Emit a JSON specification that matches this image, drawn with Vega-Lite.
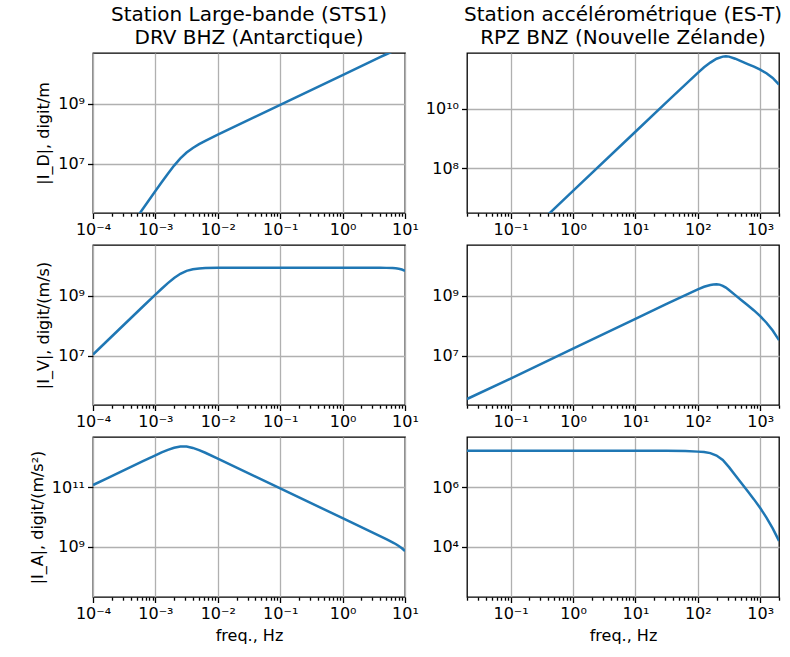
{
  "$schema": "https://vega.github.io/schema/vega-lite/v6.json",
  "padding": {"left": 28, "top": 4, "right": 5, "bottom": 5},
  "bounds": "flush",
  "columns": 2,
  "spacing": {"row": 32, "column": 62},
  "datasets": {
    "LD": [{"f":0.0003981,"v":7.621e4},{"f":0.000631,"v":3.027e5},{"f":0.001,"v":1.197e6},{"f":0.001259,"v":2.360e6},{"f":0.001585,"v":4.571e6},{"f":0.001995,"v":8.531e6},{"f":0.002512,"v":1.483e7},{"f":0.003162,"v":2.333e7},{"f":0.003981,"v":3.342e7},{"f":0.005012,"v":4.467e7},{"f":0.00631,"v":5.781e7},{"f":0.01,"v":9.311e7},{"f":0.1,"v":9.333e8},{"f":1,"v":9.333e9},{"f":2.512,"v":2.344e10},{"f":3.981,"v":3.711e10},{"f":5.012,"v":4.656e10},{"f":6.31,"v":5.781e10},{"f":10,"v":7.413e10}],
    "LV": [{"f":0.0001,"v":1.102e7},{"f":0.0001585,"v":2.767e7},{"f":0.0002512,"v":6.950e7},{"f":0.0003981,"v":1.746e8},{"f":0.000631,"v":4.375e8},{"f":0.001,"v":1.091e9},{"f":0.001259,"v":1.710e9},{"f":0.001585,"v":2.630e9},{"f":0.001995,"v":3.899e9},{"f":0.002512,"v":5.383e9},{"f":0.003162,"v":6.730e9},{"f":0.003981,"v":7.656e9},{"f":0.005012,"v":8.128e9},{"f":0.00631,"v":8.356e9},{"f":0.01,"v":8.492e9},{"f":0.1,"v":8.511e9},{"f":1,"v":8.511e9},{"f":2.512,"v":8.511e9},{"f":3.981,"v":8.502e9},{"f":5.012,"v":8.472e9},{"f":6.31,"v":8.356e9},{"f":7.079,"v":8.213e9},{"f":7.943,"v":7.943e9},{"f":8.913,"v":7.482e9},{"f":10,"v":6.761e9}],
    "LA": [{"f":0.0001,"v":1.180e11},{"f":0.0001585,"v":1.871e11},{"f":0.0002512,"v":2.965e11},{"f":0.0003981,"v":4.699e11},{"f":0.000631,"v":7.430e11},{"f":0.001,"v":1.169e12},{"f":0.001259,"v":1.455e12},{"f":0.001585,"v":1.778e12},{"f":0.001995,"v":2.094e12},{"f":0.002512,"v":2.296e12},{"f":0.003162,"v":2.280e12},{"f":0.003981,"v":2.061e12},{"f":0.005012,"v":1.738e12},{"f":0.00631,"v":1.419e12},{"f":0.01,"v":9.099e11},{"f":0.1,"v":9.120e10},{"f":1,"v":9.120e9},{"f":2.512,"v":3.631e9},{"f":3.981,"v":2.288e9},{"f":5.012,"v":1.811e9},{"f":6.31,"v":1.419e9},{"f":7.079,"v":1.243e9},{"f":7.943,"v":1.072e9},{"f":8.913,"v":8.995e8},{"f":10,"v":7.244e8}],
    "RD": [{"f":0.3162,"v":1.698e6},{"f":1,"v":1.698e7},{"f":10,"v":1.660e9},{"f":31.62,"v":1.660e10},{"f":100,"v":1.585e11},{"f":125.9,"v":2.455e11},{"f":158.5,"v":3.548e11},{"f":199.5,"v":4.786e11},{"f":251.2,"v":5.623e11},{"f":281.8,"v":5.754e11},{"f":316.2,"v":5.623e11},{"f":398.1,"v":4.786e11},{"f":501.2,"v":3.890e11},{"f":631,"v":3.162e11},{"f":794.3,"v":2.570e11},{"f":1000,"v":2.042e11},{"f":1259,"v":1.549e11},{"f":1585,"v":1.072e11},{"f":2000,"v":6.457e10}],
    "RV": [{"f":0.02,"v":3.631e5},{"f":0.1,"v":1.738e6},{"f":1,"v":1.738e7},{"f":10,"v":1.698e8},{"f":31.62,"v":5.370e8},{"f":100,"v":1.622e9},{"f":125.9,"v":1.995e9},{"f":158.5,"v":2.291e9},{"f":177.8,"v":2.371e9},{"f":199.5,"v":2.399e9},{"f":223.9,"v":2.344e9},{"f":251.2,"v":2.138e9},{"f":281.8,"v":1.862e9},{"f":316.2,"v":1.549e9},{"f":398.1,"v":1.047e9},{"f":501.2,"v":7.079e8},{"f":631,"v":4.786e8},{"f":794.3,"v":3.236e8},{"f":1000,"v":2.089e8},{"f":1259,"v":1.259e8},{"f":1585,"v":6.918e7},{"f":2000,"v":3.311e7}],
    "RA": [{"f":0.02,"v":1.660e7},{"f":0.1,"v":1.660e7},{"f":1,"v":1.660e7},{"f":10,"v":1.660e7},{"f":31.62,"v":1.660e7},{"f":63.1,"v":1.622e7},{"f":100,"v":1.549e7},{"f":125.9,"v":1.514e7},{"f":158.5,"v":1.380e7},{"f":199.5,"v":1.148e7},{"f":251.2,"v":8.128e6},{"f":316.2,"v":4.677e6},{"f":398.1,"v":2.512e6},{"f":501.2,"v":1.349e6},{"f":631,"v":7.244e5},{"f":794.3,"v":3.890e5},{"f":1000,"v":1.995e5},{"f":1259,"v":9.550e4},{"f":1585,"v":4.169e4},{"f":2000,"v":1.585e4}]
  },
  "concat": [
    {
      "width": 312, "height": 160,
      "title": {"text": ["Station Large-bande (STS1)", "DRV BHZ (Antarctique)"]},
      "data": {"name": "LD"},
      "mark": {"type": "line", "clip": true, "color": "#1f77b4", "strokeWidth": 2.5},
      "encoding": {
        "x": {"field": "f", "type": "quantitative", "scale": {"type": "log", "domain": [0.0001, 10], "nice": false},
          "axis": {"title": null, "values": [0.0001,0.0002,0.0003,0.0004,0.0005,0.0006,0.0007,0.0008,0.0009,0.001,0.002,0.003,0.004,0.005,0.006,0.007,0.008,0.009,0.01,0.02,0.03,0.04,0.05,0.06,0.07,0.08,0.09,0.1,0.2,0.3,0.4,0.5,0.6,0.7,0.8,0.9,1,2,3,4,5,6,7,8,9,10],
            "labelExpr": "abs(log(datum.value)/LN10-round(log(datum.value)/LN10))<0.001 ? '10'+(round(log(datum.value)/LN10)<0?'⁻':'')+(abs(round(log(datum.value)/LN10))>=10?'¹':'')+['⁰','¹','²','³','⁴','⁵','⁶','⁷','⁸','⁹'][abs(round(log(datum.value)/LN10))%10] : ''",
            "tickSize": {"condition": {"test": "abs(log(datum.value)/LN10-round(log(datum.value)/LN10))<0.001", "value": 5.5}, "value": 3.2},
            "gridOpacity": {"condition": {"test": "abs(log(datum.value)/LN10-round(log(datum.value)/LN10))<0.001", "value": 1}, "value": 0}}},
        "y": {"field": "v", "type": "quantitative", "scale": {"type": "log", "domain": [2.188e5, 5.129e10], "nice": false},
          "axis": {"values": [1e7, 1e9], "title": "|I_D|, digit/m",
            "labelExpr": "'10'+(round(log(datum.value)/LN10)<0?'⁻':'')+(abs(round(log(datum.value)/LN10))>=10?'¹':'')+['⁰','¹','²','³','⁴','⁵','⁶','⁷','⁸','⁹'][abs(round(log(datum.value)/LN10))%10]"}}
      }
    },
    {
      "width": 312, "height": 160,
      "title": {"text": ["Station accélérométrique (ES-T)", "RPZ BNZ (Nouvelle Zélande)"]},
      "data": {"name": "RD"},
      "mark": {"type": "line", "clip": true, "color": "#1f77b4", "strokeWidth": 2.5},
      "encoding": {
        "x": {"field": "f", "type": "quantitative", "scale": {"type": "log", "domain": [0.02, 2000], "nice": false},
          "axis": {"title": null, "values": [0.02,0.03,0.04,0.05,0.06,0.07,0.08,0.09,0.1,0.2,0.3,0.4,0.5,0.6,0.7,0.8,0.9,1,2,3,4,5,6,7,8,9,10,20,30,40,50,60,70,80,90,100,200,300,400,500,600,700,800,900,1000,2000],
            "labelExpr": "abs(log(datum.value)/LN10-round(log(datum.value)/LN10))<0.001 ? '10'+(round(log(datum.value)/LN10)<0?'⁻':'')+(abs(round(log(datum.value)/LN10))>=10?'¹':'')+['⁰','¹','²','³','⁴','⁵','⁶','⁷','⁸','⁹'][abs(round(log(datum.value)/LN10))%10] : ''",
            "tickSize": {"condition": {"test": "abs(log(datum.value)/LN10-round(log(datum.value)/LN10))<0.001", "value": 5.5}, "value": 3.2},
            "gridOpacity": {"condition": {"test": "abs(log(datum.value)/LN10-round(log(datum.value)/LN10))<0.001", "value": 1}, "value": 0}}},
        "y": {"field": "v", "type": "quantitative", "scale": {"type": "log", "domain": [3.055e6, 7.447e11], "nice": false},
          "axis": {"values": [1e8, 1e10], "title": null,
            "labelExpr": "'10'+(round(log(datum.value)/LN10)<0?'⁻':'')+(abs(round(log(datum.value)/LN10))>=10?'¹':'')+['⁰','¹','²','³','⁴','⁵','⁶','⁷','⁸','⁹'][abs(round(log(datum.value)/LN10))%10]"}}
      }
    },
    {
      "width": 312, "height": 160,
      "data": {"name": "LV"},
      "mark": {"type": "line", "clip": true, "color": "#1f77b4", "strokeWidth": 2.5},
      "encoding": {
        "x": {"field": "f", "type": "quantitative", "scale": {"type": "log", "domain": [0.0001, 10], "nice": false},
          "axis": {"title": null, "values": [0.0001,0.0002,0.0003,0.0004,0.0005,0.0006,0.0007,0.0008,0.0009,0.001,0.002,0.003,0.004,0.005,0.006,0.007,0.008,0.009,0.01,0.02,0.03,0.04,0.05,0.06,0.07,0.08,0.09,0.1,0.2,0.3,0.4,0.5,0.6,0.7,0.8,0.9,1,2,3,4,5,6,7,8,9,10],
            "labelExpr": "abs(log(datum.value)/LN10-round(log(datum.value)/LN10))<0.001 ? '10'+(round(log(datum.value)/LN10)<0?'⁻':'')+(abs(round(log(datum.value)/LN10))>=10?'¹':'')+['⁰','¹','²','³','⁴','⁵','⁶','⁷','⁸','⁹'][abs(round(log(datum.value)/LN10))%10] : ''",
            "tickSize": {"condition": {"test": "abs(log(datum.value)/LN10-round(log(datum.value)/LN10))<0.001", "value": 5.5}, "value": 3.2},
            "gridOpacity": {"condition": {"test": "abs(log(datum.value)/LN10-round(log(datum.value)/LN10))<0.001", "value": 1}, "value": 0}}},
        "y": {"field": "v", "type": "quantitative", "scale": {"type": "log", "domain": [2.291e5, 4.898e10], "nice": false},
          "axis": {"values": [1e7, 1e9], "title": "|I_V|, digit/(m/s)",
            "labelExpr": "'10'+(round(log(datum.value)/LN10)<0?'⁻':'')+(abs(round(log(datum.value)/LN10))>=10?'¹':'')+['⁰','¹','²','³','⁴','⁵','⁶','⁷','⁸','⁹'][abs(round(log(datum.value)/LN10))%10]"}}
      }
    },
    {
      "width": 312, "height": 160,
      "data": {"name": "RV"},
      "mark": {"type": "line", "clip": true, "color": "#1f77b4", "strokeWidth": 2.5},
      "encoding": {
        "x": {"field": "f", "type": "quantitative", "scale": {"type": "log", "domain": [0.02, 2000], "nice": false},
          "axis": {"title": null, "values": [0.02,0.03,0.04,0.05,0.06,0.07,0.08,0.09,0.1,0.2,0.3,0.4,0.5,0.6,0.7,0.8,0.9,1,2,3,4,5,6,7,8,9,10,20,30,40,50,60,70,80,90,100,200,300,400,500,600,700,800,900,1000,2000],
            "labelExpr": "abs(log(datum.value)/LN10-round(log(datum.value)/LN10))<0.001 ? '10'+(round(log(datum.value)/LN10)<0?'⁻':'')+(abs(round(log(datum.value)/LN10))>=10?'¹':'')+['⁰','¹','²','³','⁴','⁵','⁶','⁷','⁸','⁹'][abs(round(log(datum.value)/LN10))%10] : ''",
            "tickSize": {"condition": {"test": "abs(log(datum.value)/LN10-round(log(datum.value)/LN10))<0.001", "value": 5.5}, "value": 3.2},
            "gridOpacity": {"condition": {"test": "abs(log(datum.value)/LN10-round(log(datum.value)/LN10))<0.001", "value": 1}, "value": 0}}},
        "y": {"field": "v", "type": "quantitative", "scale": {"type": "log", "domain": [2.291e5, 4.898e10], "nice": false},
          "axis": {"values": [1e7, 1e9], "title": null,
            "labelExpr": "'10'+(round(log(datum.value)/LN10)<0?'⁻':'')+(abs(round(log(datum.value)/LN10))>=10?'¹':'')+['⁰','¹','²','³','⁴','⁵','⁶','⁷','⁸','⁹'][abs(round(log(datum.value)/LN10))%10]"}}
      }
    },
    {
      "width": 312, "height": 160,
      "data": {"name": "LA"},
      "mark": {"type": "line", "clip": true, "color": "#1f77b4", "strokeWidth": 2.5},
      "encoding": {
        "x": {"field": "f", "type": "quantitative", "scale": {"type": "log", "domain": [0.0001, 10], "nice": false},
          "axis": {"title": "freq., Hz", "values": [0.0001,0.0002,0.0003,0.0004,0.0005,0.0006,0.0007,0.0008,0.0009,0.001,0.002,0.003,0.004,0.005,0.006,0.007,0.008,0.009,0.01,0.02,0.03,0.04,0.05,0.06,0.07,0.08,0.09,0.1,0.2,0.3,0.4,0.5,0.6,0.7,0.8,0.9,1,2,3,4,5,6,7,8,9,10],
            "labelExpr": "abs(log(datum.value)/LN10-round(log(datum.value)/LN10))<0.001 ? '10'+(round(log(datum.value)/LN10)<0?'⁻':'')+(abs(round(log(datum.value)/LN10))>=10?'¹':'')+['⁰','¹','²','³','⁴','⁵','⁶','⁷','⁸','⁹'][abs(round(log(datum.value)/LN10))%10] : ''",
            "tickSize": {"condition": {"test": "abs(log(datum.value)/LN10-round(log(datum.value)/LN10))<0.001", "value": 5.5}, "value": 3.2},
            "gridOpacity": {"condition": {"test": "abs(log(datum.value)/LN10-round(log(datum.value)/LN10))<0.001", "value": 1}, "value": 0}}},
        "y": {"field": "v", "type": "quantitative", "scale": {"type": "log", "domain": [2.089e7, 4.786e12], "nice": false},
          "axis": {"values": [1e9, 1e11], "title": "|I_A|, digit/(m/s²)",
            "labelExpr": "'10'+(round(log(datum.value)/LN10)<0?'⁻':'')+(abs(round(log(datum.value)/LN10))>=10?'¹':'')+['⁰','¹','²','³','⁴','⁵','⁶','⁷','⁸','⁹'][abs(round(log(datum.value)/LN10))%10]"}}
      }
    },
    {
      "width": 312, "height": 160,
      "data": {"name": "RA"},
      "mark": {"type": "line", "clip": true, "color": "#1f77b4", "strokeWidth": 2.5},
      "encoding": {
        "x": {"field": "f", "type": "quantitative", "scale": {"type": "log", "domain": [0.02, 2000], "nice": false},
          "axis": {"title": "freq., Hz", "values": [0.02,0.03,0.04,0.05,0.06,0.07,0.08,0.09,0.1,0.2,0.3,0.4,0.5,0.6,0.7,0.8,0.9,1,2,3,4,5,6,7,8,9,10,20,30,40,50,60,70,80,90,100,200,300,400,500,600,700,800,900,1000,2000],
            "labelExpr": "abs(log(datum.value)/LN10-round(log(datum.value)/LN10))<0.001 ? '10'+(round(log(datum.value)/LN10)<0?'⁻':'')+(abs(round(log(datum.value)/LN10))>=10?'¹':'')+['⁰','¹','²','³','⁴','⁵','⁶','⁷','⁸','⁹'][abs(round(log(datum.value)/LN10))%10] : ''",
            "tickSize": {"condition": {"test": "abs(log(datum.value)/LN10-round(log(datum.value)/LN10))<0.001", "value": 5.5}, "value": 3.2},
            "gridOpacity": {"condition": {"test": "abs(log(datum.value)/LN10-round(log(datum.value)/LN10))<0.001", "value": 1}, "value": 0}}},
        "y": {"field": "v", "type": "quantitative", "scale": {"type": "log", "domain": [208.9, 4.786e7], "nice": false},
          "axis": {"values": [1e4, 1e6], "title": null,
            "labelExpr": "'10'+(round(log(datum.value)/LN10)<0?'⁻':'')+(abs(round(log(datum.value)/LN10))>=10?'¹':'')+['⁰','¹','²','³','⁴','⁵','⁶','⁷','⁸','⁹'][abs(round(log(datum.value)/LN10))%10]"}}
      }
    }
  ],
  "config": {
    "font": "DejaVu Sans",
    "view": {"stroke": "black", "strokeWidth": 1.3},
    "axis": {"grid": true, "gridColor": "#b0b0b0", "gridWidth": 1.3, "domain": false, "tickColor": "black", "tickWidth": 1.3, "tickSize": 5.5,
      "labelFont": "DejaVu Sans", "labelFontSize": 16, "labelColor": "black", "labelFlush": false, "labelOverlap": false, "labelPadding": 3,
      "titleFont": "DejaVu Sans", "titleFontSize": 16, "titleFontWeight": "normal", "titleColor": "black", "titlePadding": 6},
    "title": {"font": "DejaVu Sans", "fontSize": 20, "fontWeight": "normal", "color": "black", "offset": 5, "lineHeight": 23, "frame": "group", "anchor": "middle"}
  }
}
